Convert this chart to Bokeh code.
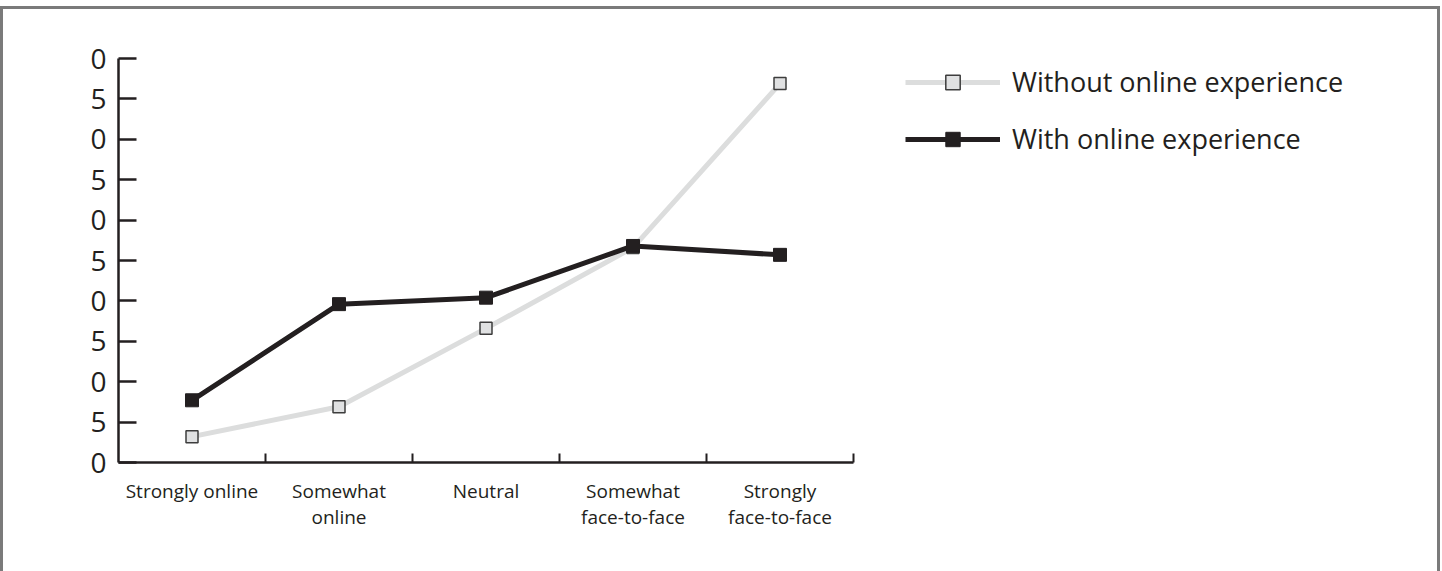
from bokeh.plotting import figure
from bokeh.models import FixedTicker, Legend, LegendItem
from bokeh.embed import file_html
from bokeh.resources import INLINE

categories = ["Strongly online", "Somewhat\nonline", "Neutral", "Somewhat\nface-to-face", "Strongly\nface-to-face"]
without_online = [3.2, 6.9, 16.6, 26.6, 46.9]
with_online = [7.7, 19.6, 20.4, 26.8, 25.7]
y_ticks = [0, 5, 10, 15, 20, 25, 30, 35, 40, 45, 50]
y_tick_labels = ["0", "5", "0", "5", "0", "5", "0", "5", "0", "5", "0"]

DARK = "#231f20"
LIGHT = "#dcdddd"
FONT = "Open Sans"

H = 562
OX, OY = 3, 9   # observed origin of the drawing area on the page
FL, FT, FW, FH = 118 - OX, 58 - OY, 735, 404
p = figure(frame_width=FW, frame_height=FH, output_backend="svg", toolbar_location=None,
           x_range=(0, len(categories)), y_range=(0, 50),
           min_border_left=FL, min_border_top=FT,
           min_border_right=0, min_border_bottom=H - FT - FH)
p.styles = {"border-left": "3px solid #7a7a7a", "border-top": "3px solid #7a7a7a",
            "border-right": "3px solid #7a7a7a", "margin-top": "6px",
            "width": "1440px", "max-width": "1440px", "box-sizing": "border-box",
            "overflow": "hidden"}
p.grid.visible = False
p.outline_line_color = None
p.background_fill_color = "white"
p.border_fill_color = "white"

xs = [i + 0.5 for i in range(len(categories))]

# x axis
xa = p.xaxis[0]
xa.ticker = FixedTicker(ticks=xs, minor_ticks=list(range(1, len(categories) + 1)))
xa.major_label_overrides = {x: c for x, c in zip(xs, categories)}
xa.major_tick_line_color = None
xa.minor_tick_in = 9
xa.minor_tick_out = 0
xa.minor_tick_line_color = DARK
xa.minor_tick_line_width = 2
xa.axis_line_color = DARK
xa.axis_line_width = 2.5
xa.major_label_text_font = FONT
xa.major_label_text_font_size = "19px"
xa.major_label_text_color = DARK
xa.major_label_standoff = 9
xa.major_label_text_line_height = 1.0

# y axis
ya = p.yaxis[0]
ya.ticker = FixedTicker(ticks=y_ticks)
ya.major_label_overrides = {t: l for t, l in zip(y_ticks, y_tick_labels)}
ya.major_tick_in = 18
ya.major_tick_out = 0
ya.major_tick_line_color = DARK
ya.major_tick_line_width = 2.5
ya.minor_tick_line_color = None
ya.axis_line_color = DARK
ya.axis_line_width = 2.5
ya.major_label_text_font = FONT
ya.major_label_text_font_size = "28px"
ya.major_label_text_color = DARK
ya.major_label_standoff = 12

l1 = p.line(xs, without_online, line_color=LIGHT, line_width=5)
s1 = p.scatter(xs, without_online, marker="square", size=12, fill_color="#e0e1e2",
               line_color="#3d3d3d", line_width=1.5)
l2 = p.line(xs, with_online, line_color=DARK, line_width=5)
s2 = p.scatter(xs, with_online, marker="square", size=13, fill_color=DARK,
               line_color=DARK, line_width=1)

legend = Legend(items=[LegendItem(label="Without online experience", renderers=[l1, s1]),
                       LegendItem(label="With online experience", renderers=[l2, s2])],
                location=(52, 305), orientation="vertical",
                glyph_width=95, glyph_height=36, label_height=36, spacing=20,
                label_standoff=12, padding=0, margin=0,
                border_line_color=None, background_fill_alpha=0,
                label_text_font=FONT, label_text_font_size="27px", label_text_color=DARK)
p.add_layout(legend, "right")

open("out.html", "w").write(file_html(p, INLINE))
